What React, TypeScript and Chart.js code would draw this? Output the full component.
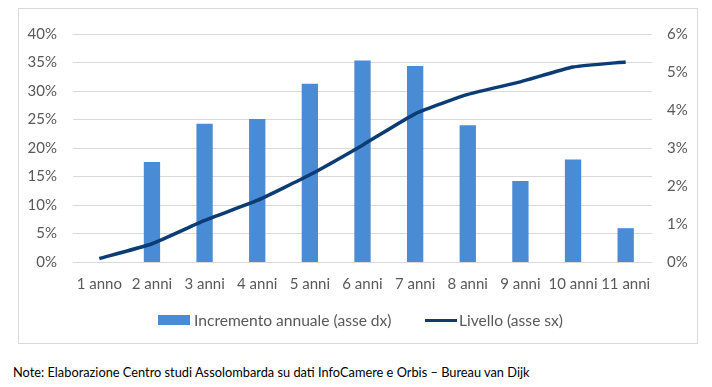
import React, { useEffect, useRef } from "react";
import { Chart, registerables } from "chart.js";

Chart.register(...registerables);

const categories = ["1 anno", "2 anni", "3 anni", "4 anni", "5 anni", "6 anni", "7 anni", "8 anni", "9 anni", "10 anni", "11 anni"];
// Incremento annuale (asse dx), in %
const incremento = [null, 2.63, 3.64, 3.76, 4.69, 5.3, 5.16, 3.6, 2.13, 2.7, 0.89];
// Livello (asse sx), in %
const livello = [0.6, 3.2, 7.3, 10.8, 15.3, 20.5, 26.0, 29.4, 31.6, 34.2, 35.1];
const leftTicks = [0, 5, 10, 15, 20, 25, 30, 35, 40];
const rightTicks = [0, 1, 2, 3, 4, 5, 6];
const seriesNames = ["Incremento annuale (asse dx)", "Livello (asse sx)"];
const note = "Note: Elaborazione Centro studi Assolombarda su dati InfoCamere e Orbis \u2013 Bureau van Dijk";

const FONT = "Lato, 'Liberation Sans', sans-serif";
const GRAY = "#595959";
const BAR = "#4a8bd5";
const LINE = "#0b3c74";

export default function App() {
  const ref = useRef<HTMLCanvasElement | null>(null);

  useEffect(() => {
    if (!ref.current) return;
    const chart = new Chart(ref.current, {
      type: "bar",
      data: {
        labels: categories,
        datasets: [
          {
            type: "bar",
            label: seriesNames[0],
            data: incremento as any,
            backgroundColor: BAR,
            borderWidth: 0,
            yAxisID: "y1",
            barPercentage: 0.31,
            categoryPercentage: 1,
            order: 1,
          },
          {
            type: "line",
            label: seriesNames[1],
            data: livello,
            borderColor: LINE,
            backgroundColor: LINE,
            borderWidth: 3.5,
            pointRadius: 0,
            tension: 0.15,
            yAxisID: "y",
            order: 0,
          } as any,
        ],
      },
      options: {
        responsive: false,
        maintainAspectRatio: false,
        animation: false,
        layout: { padding: { top: 17, left: 0, right: 0, bottom: 41 } },
        plugins: {
          tooltip: { enabled: false },
          legend: { display: false },
        },
        scales: {
          x: {
            grid: { display: false, drawTicks: false },
            border: { display: false },
            ticks: { font: { family: FONT, size: 15 }, color: GRAY, padding: 13, maxRotation: 0, autoSkip: false },
            afterFit: (s: any) => { s.height = 40; },
          },
          y: {
            position: "left",
            min: 0,
            max: 40,
            afterBuildTicks: (s: any) => { s.ticks = leftTicks.map((v) => ({ value: v })); },
            ticks: { font: { family: FONT, size: 15 }, color: GRAY, padding: 16, callback: (v: any) => v + "%" },
            grid: { color: "#d9d9d9", lineWidth: 1, drawTicks: false },
            border: { display: false },
            afterFit: (s: any) => { s.width = 54; },
          },
          y1: {
            position: "right",
            min: 0,
            max: 6,
            afterBuildTicks: (s: any) => { s.ticks = rightTicks.map((v) => ({ value: v })); },
            ticks: { font: { family: FONT, size: 15 }, color: GRAY, padding: 15, callback: (v: any) => v + "%" },
            grid: { display: false, drawTicks: false },
            border: { display: false },
            afterFit: (s: any) => { s.width = 45; },
          },
        },
      } as any,
    });
    return () => chart.destroy();
  }, []);

  const legendText: React.CSSProperties = {
    position: "absolute",
    top: 310,
    fontFamily: FONT,
    fontSize: 15.6,
    lineHeight: "20px",
    color: GRAY,
    whiteSpace: "nowrap",
  };

  return (
    <div style={{ position: "absolute", left: 0, top: 0, width: 712, height: 387, background: "#fff" }}>
      <div
        style={{
          position: "absolute",
          left: 18,
          top: 8,
          width: 680,
          height: 336,
          border: "1px solid #d9d9d9",
          boxSizing: "border-box",
        }}
      >
        <canvas ref={ref} width={678} height={334} style={{ display: "block", width: 678, height: 334 }} />
      </div>
      <div style={{ position: "absolute", left: 158, top: 315, width: 32, height: 10, background: BAR }} />
      <div style={{ ...legendText, left: 194 }}>{seriesNames[0]}</div>
      <div style={{ position: "absolute", left: 425, top: 318.5, width: 32, height: 3, background: LINE }} />
      <div style={{ ...legendText, left: 459 }}>{seriesNames[1]}</div>
      <div
        style={{
          position: "absolute",
          left: 13,
          top: 364,
          fontFamily: FONT,
          fontSize: 12.8,
          lineHeight: "16px",
          color: "#000",
          whiteSpace: "nowrap",
        }}
      >
        {note}
      </div>
    </div>
  );
}
